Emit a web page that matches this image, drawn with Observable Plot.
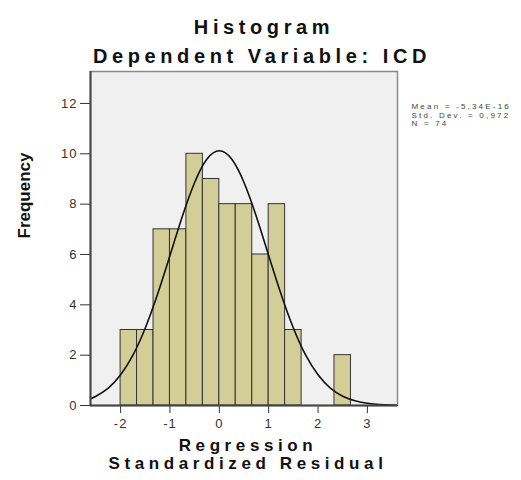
<!DOCTYPE html>
<html>
<head>
<meta charset="utf-8">
<script src="https://cdn.jsdelivr.net/npm/d3@7"></script>
<script src="https://cdn.jsdelivr.net/npm/@observablehq/plot@0.6"></script>
<style>
  body { margin: 0; background: #fff; }
  #chart svg { display: block; }
</style>
</head>
<body>
<div id="chart"></div>
<script>
// Histogram bins (Regression Standardized Residual) and frequencies
const binLo  = [-2, -1.667, -1.333, -1, -0.667, -0.333, 0, 0.333, 0.667, 1, 1.333, 2.333];
const binHi  = [-1.667, -1.333, -1, -0.667, -0.333, 0, 0.333, 0.667, 1, 1.333, 1.667, 2.667];
const counts = [3, 3, 7, 7, 10, 9, 8, 8, 6, 8, 3, 2];

// Normal curve points
const curveX = [-2.6, -2.5, -2.25, -2, -1.75, -1.5, -1.25, -1, -0.75, -0.5, -0.25, 0, 0.25, 0.5, 0.75, 1, 1.25, 1.5, 1.75, 2, 2.25, 2.5, 2.75, 3, 3.25, 3.5, 3.6];
const curveY = [0.28, 0.37, 0.69, 1.22, 2.0, 3.08, 4.43, 5.96, 7.51, 8.86, 9.79, 10.12, 9.79, 8.86, 7.51, 5.96, 4.43, 3.08, 2.0, 1.22, 0.69, 0.37, 0.19, 0.09, 0.04, 0.02, 0.01];

const xTicks = [-2, -1, 0, 1, 2, 3];
const yTicks = [0, 2, 4, 6, 8, 10, 12];

const titleText = "Histogram";
const subtitleText = "Dependent Variable: ICD";
const xLabel1 = "Regression";
const xLabel2 = "Standardized Residual";
const yLabel = "Frequency";
const statsLines = ["Mean = -5,34E-16", "Std. Dev. = 0,972", "N = 74"];

const bars = binLo.map((lo, i) => ({lo, hi: binHi[i], n: counts[i]}));
const curve = curveX.map((x, i) => ({x, y: curveY[i]}));

const FONT = "Liberation Sans, Arial, Helvetica, sans-serif";

const chart = Plot.plot({
  width: 521,
  height: 480,
  marginLeft: 90,
  marginRight: 124,
  marginTop: 71,
  marginBottom: 75,
  style: {fontFamily: FONT, background: "#fff", overflow: "visible"},
  x: {domain: [-2.61, 3.61], label: null},
  y: {domain: [0, 13.27], label: null},
  marks: [
    Plot.frame({fill: "#f0f0f0", stroke: "#8a8a8a", strokeWidth: 1.5}),
    Plot.rectY(bars, {x1: "lo", x2: "hi", y: "n", fill: "#d3ce97", stroke: "#333", strokeWidth: 1, inset: 0}),
    Plot.line(curve, {x: "x", y: "y", stroke: "#111", strokeWidth: 1.6, curve: "natural"}),
    Plot.axisX({ticks: xTicks, tickSize: 8, tickPadding: 5, tickFormat: d => `${d}`, stroke: "#333", fill: "#333", fontSize: 13, label: null}),
    Plot.axisY({ticks: yTicks, tickSize: 10, tickPadding: 3, tickFormat: d => `${d}`, stroke: "#333", fill: "#333", fontSize: 13, label: null}),
    Plot.ruleX([-2.61], {stroke: "#444", strokeWidth: 2}),
    Plot.ruleY([0], {stroke: "#444", strokeWidth: 2}),
    Plot.text([titleText], {frameAnchor: "top", dx: 20, dy: -52, fontSize: 20, fontWeight: "bold", fill: "#111"}),
    Plot.text([subtitleText], {frameAnchor: "top", dx: 18, dy: -23, fontSize: 20, fontWeight: "bold", fill: "#111"}),
    Plot.text([xLabel1], {frameAnchor: "bottom", dx: 4, dy: 45, fontSize: 17, fontWeight: "bold", fill: "#111"}),
    Plot.text([xLabel2], {frameAnchor: "bottom", dx: 4, dy: 63, fontSize: 17, fontWeight: "bold", fill: "#111"}),
    Plot.text([yLabel], {frameAnchor: "left", dx: -66, rotate: -90, fontSize: 17, fontWeight: "bold", fill: "#111"}),
    Plot.text([statsLines.join("\n")], {frameAnchor: "top-right", dx: 14, dy: 31, textAnchor: "start", fontSize: 8, lineHeight: 1.1, fill: "#444"})
  ]
});

const wideTexts = [titleText, subtitleText, xLabel1, xLabel2];
d3.select(chart).selectAll("text").each(function () {
  const t = this.textContent;
  if (wideTexts.includes(t)) this.style.letterSpacing = "4.6px";
  else if (t.startsWith(statsLines[0])) this.style.letterSpacing = "2.2px";
});
d3.select(chart).selectAll('g[aria-label="x-axis tick label"] text, g[aria-label="y-axis tick label"] text').style("letter-spacing", "1px");

document.getElementById("chart").appendChild(chart);
</script>
</body>
</html>
